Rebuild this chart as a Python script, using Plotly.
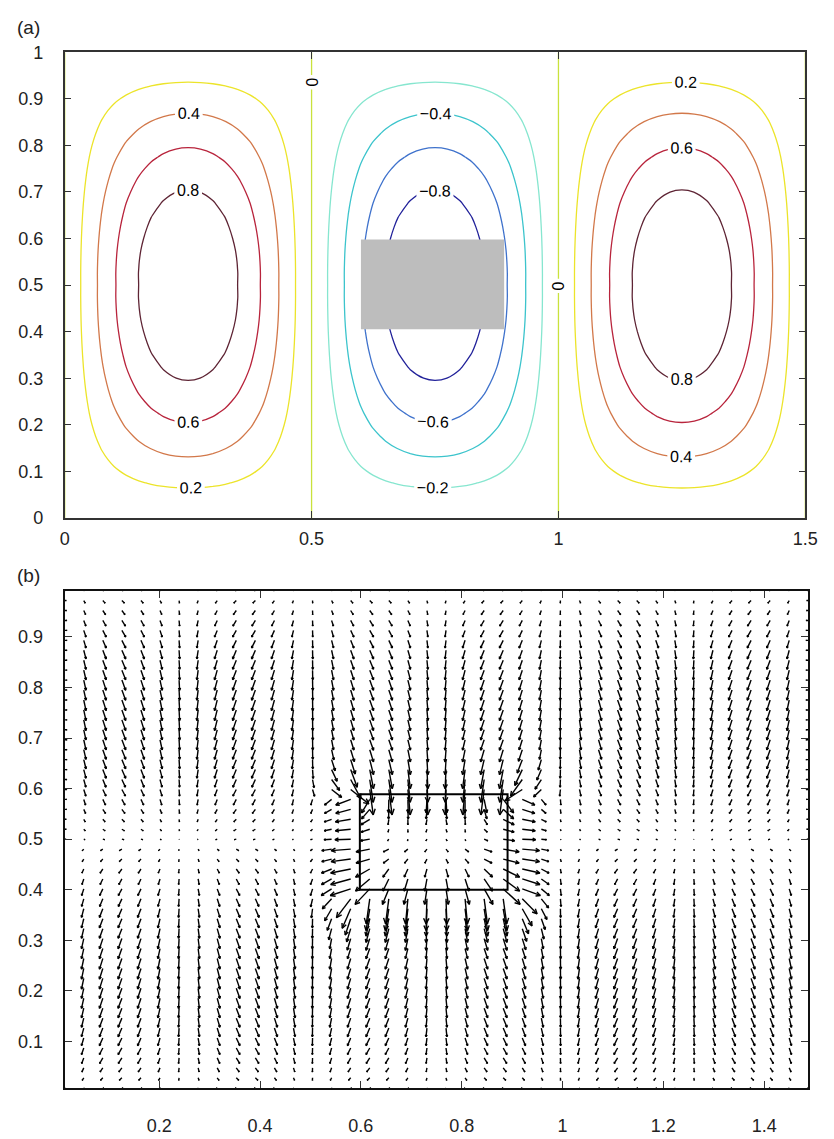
import numpy as np
import plotly.graph_objects as go
import plotly.figure_factory as ff

# ---------------- Panel (a): contour field (profiles) ----------------
x_a = np.linspace(0.0, 1.5, 61)
y_a = np.linspace(0.0, 1.0, 41)

psi_x_profile = [0.0, 0.156, 0.309, 0.454, 0.588, 0.707, 0.809, 0.891, 0.951, 0.988, 1.0,
                 0.988, 0.951, 0.891, 0.809, 0.707, 0.588, 0.454, 0.309, 0.156, 0.0,
                 -0.156, -0.309, -0.454, -0.588, -0.707, -0.809, -0.891, -0.951, -0.988, -1.0,
                 -0.988, -0.951, -0.891, -0.809, -0.707, -0.588, -0.454, -0.309, -0.156, 0.0,
                 0.156, 0.309, 0.454, 0.588, 0.707, 0.809, 0.891, 0.951, 0.988, 1.0,
                 0.988, 0.951, 0.891, 0.809, 0.707, 0.588, 0.454, 0.309, 0.156, 0.0]
psi_y_profile = [0.0, 0.078, 0.156, 0.233, 0.309, 0.383, 0.454, 0.522, 0.588, 0.649, 0.707,
                 0.760, 0.809, 0.853, 0.891, 0.924, 0.951, 0.972, 0.985, 0.992, 0.99,
                 0.992, 0.985, 0.972, 0.951, 0.924, 0.891, 0.853, 0.809, 0.760, 0.707,
                 0.649, 0.588, 0.522, 0.454, 0.383, 0.309, 0.233, 0.156, 0.078, 0.0]

neg_levels = [-0.8, -0.6, -0.4, -0.2]
neg_colors = ["#22229a", "#3f72cc", "#3cc4cc", "#86e6cf"]
zero_color = "#c9e23c"
pos_levels = [0.2, 0.4, 0.6, 0.8]
pos_colors = ["#ece42a", "#d2784a", "#b8243c", "#5e2434"]

obstacle = dict(x0=0.6, x1=0.89, y0=0.405, y1=0.598)

# ---------------- Panel (b): vector field (row/column profiles) ----------------
x_q = np.linspace(0.0125, 1.4875, 40)
y_q = np.linspace(0.0083, 0.9917, 51)

# vertical (downward) magnitude per row
v_row = [0.0, 0.005, 0.008, 0.011, 0.013, 0.015, 0.017, 0.018, 0.019, 0.020, 0.020, 0.021, 0.021,
         0.021, 0.020, 0.020, 0.019, 0.018, 0.017, 0.015, 0.013, 0.011, 0.008, 0.005, 0.003, 0.001,
         0.003, 0.005, 0.008, 0.011, 0.013, 0.015, 0.017, 0.018, 0.019, 0.020, 0.020, 0.021,
         0.021, 0.021, 0.020, 0.020, 0.019, 0.018, 0.017, 0.015, 0.013, 0.011, 0.008, 0.005, 0.0]
# horizontal tilt amplitude per row (signed)
u_row = [0.002, -0.005, -0.006, -0.007, -0.0075, -0.0075, -0.0075, -0.0075, -0.0075, -0.0075,
         -0.0075, -0.0075, -0.0075, -0.0075, -0.0075, -0.0075, -0.0075, -0.0075, -0.0075, -0.007,
         -0.007, -0.006, -0.006, -0.005, -0.005, 0.004,
         0.005, 0.005, 0.006, 0.006, 0.007, 0.007, 0.0075, 0.0075, 0.0075, 0.0075, 0.0075, 0.0075,
         0.0075, 0.0075, 0.0075, 0.0075, 0.0075, 0.0075, 0.0075, 0.0075, 0.0075, 0.007, 0.006,
         0.005, 0.002]
# tilt sign / strength per column
s_col = [0.6, 0.59, 0.89, 1.0, 0.88, 0.57, 0.14, -0.33, -0.71, -0.96, -0.98, -0.78, -0.42,
         0.05, 0.50, 0.84, 0.99, 0.93, 0.66, 0.24, -0.24, -0.66, -0.93, -0.99, -0.84, -0.50,
         -0.05, 0.41, 0.78, 0.98, 0.96, 0.72, 0.33, -0.13, -0.57, -0.88, -1.0, -0.89, -0.59, -0.6]
# vertical weight per column (border columns are flat)
w_col = [0.0] + [1.0] * 38 + [0.0]

# obstacle influence: magnitude vs distance from rectangle (outside / inside)
obs_dist = [0.0, 0.02, 0.04, 0.06, 0.08, 0.11]
obs_mag = [0.040, 0.034, 0.025, 0.015, 0.007, 0.0]
in_dist = [0.0, 0.03, 0.06, 0.10]
in_mag = [0.030, 0.018, 0.005, 0.003]
rect_b = dict(x0=0.598, x1=0.891, y0=0.40, y1=0.589)

XQ, YQ = np.meshgrid(x_q, y_q)
U = np.outer(u_row, s_col)
V = -np.outer(v_row, w_col)

cx = np.clip(XQ, rect_b["x0"], rect_b["x1"])
cy = np.clip(YQ, rect_b["y0"], rect_b["y1"])
dx, dy = XQ - cx, YQ - cy
d = np.hypot(dx, dy)
outside = d > 1e-9
dsafe = np.where(outside, d, 1.0)
nx, ny = dx / dsafe, dy / dsafe
sgn = np.where(ny > 1e-9, -1.0, 1.0)
m_out = np.interp(d, obs_dist, obs_mag)
U = U + np.where(outside, m_out * sgn * nx, 0.0)
V = V + np.where(outside, m_out * sgn * ny, 0.0)
xc = 0.5 * (rect_b["x0"] + rect_b["x1"])
dxe = np.minimum(XQ - rect_b["x0"], rect_b["x1"] - XQ)
dye = np.minimum(YQ - rect_b["y0"], rect_b["y1"] - YQ)
U = U + np.where(~outside, np.sign(XQ - xc) * np.interp(dxe, in_dist, in_mag), 0.0)
V = V + np.where(~outside, -0.6 * np.interp(dye, in_dist, in_mag), 0.0)

# ---------------- Figure ----------------
fig = go.Figure()
Z = np.outer(psi_y_profile, psi_x_profile)
lab_font = dict(size=16, color="black", family="Liberation Sans, Arial")

for levels, colors in [(neg_levels, neg_colors), (pos_levels, pos_colors)]:
    nlev = len(levels)
    cs = [[i / (nlev - 1), c] for i, c in enumerate(colors)]
    fig.add_trace(go.Contour(
        x=x_a, y=y_a, z=Z, zmin=levels[0], zmax=levels[-1],
        colorscale=cs, showscale=False,
        contours=dict(coloring="lines", start=levels[0], end=levels[-1], size=0.2,
                      showlabels=True, labelfont=lab_font, labelformat=".1~f"),
        line=dict(width=1.3, smoothing=1), hoverinfo="skip", xaxis="x", yaxis="y"))
# zero level: sign changes of the x-profile only (cell walls)
fig.add_trace(go.Contour(
    x=x_a, y=y_a, z=np.outer(np.ones(len(y_a)), psi_x_profile),
    colorscale=[[0, zero_color], [1, zero_color]], showscale=False,
    contours=dict(coloring="lines", start=0.0, end=0.0, size=1.0, showlabels=True,
                  labelfont=lab_font, labelformat=".1~f"),
    line=dict(width=1.3, smoothing=0), hoverinfo="skip", xaxis="x", yaxis="y"))

q = ff.create_quiver(XQ.flatten(), YQ.flatten(), U.flatten(), V.flatten(),
                     scale=1.0, arrow_scale=0.25, angle=np.pi / 7,
                     line=dict(color="black", width=1.4))
for tr in q.data:
    tr.update(xaxis="x2", yaxis="y2", showlegend=False, hoverinfo="skip")
    fig.add_trace(tr)

W, H = 834, 1139
tick_font = dict(size=18, color="#222", family="Liberation Sans, Arial")
axis_common = dict(showline=True, linecolor="#333", linewidth=1.5, mirror="ticks",
                   ticks="inside", ticklen=7, tickcolor="#333", tickwidth=1.2,
                   showgrid=False, zeroline=False, tickfont=tick_font)

fig.update_layout(
    width=W, height=H, margin=dict(l=0, r=0, t=0, b=0),
    paper_bgcolor="white", plot_bgcolor="white", showlegend=False,
    xaxis=dict(axis_common, domain=[61 / W, 818 / W], range=[0, 1.5],
               tickvals=[0, 0.5, 1, 1.5], ticktext=["0", "0.5", "1", "1.5"],
               anchor="y", ticklabelstandoff=4),
    yaxis=dict(axis_common, domain=[(H - 517) / H, (H - 43) / H], range=[0, 1],
               tickvals=[i / 10 for i in range(11)],
               ticktext=["0", "0.1", "0.2", "0.3", "0.4", "0.5", "0.6", "0.7", "0.8", "0.9", "1"],
               anchor="x", ticklabelstandoff=16),
    xaxis2=dict(axis_common, domain=[61 / W, 821 / W], range=[0.0125, 1.4875],
                tickvals=[0.2, 0.4, 0.6, 0.8, 1.0, 1.2, 1.4],
                ticktext=["0.2", "0.4", "0.6", "0.8", "1", "1.2", "1.4"],
                anchor="y2", linecolor="#111", linewidth=2, ticklabelstandoff=21),
    yaxis2=dict(axis_common, domain=[(H - 1097) / H, (H - 591) / H], range=[0.0083, 0.9917],
                tickvals=[0.1, 0.2, 0.3, 0.4, 0.5, 0.6, 0.7, 0.8, 0.9],
                ticktext=["0.1", "0.2", "0.3", "0.4", "0.5", "0.6", "0.7", "0.8", "0.9"],
                anchor="x2", linecolor="#111", linewidth=2, ticklabelstandoff=16),
    shapes=[
        dict(type="rect", xref="x", yref="y", layer="above", fillcolor="#bdbdbd",
             line=dict(width=0), **obstacle),
        dict(type="rect", xref="x2", yref="y2", layer="above", fillcolor="rgba(0,0,0,0)",
             line=dict(color="black", width=2), **rect_b),
    ],
    annotations=[
        dict(text="(a)", xref="paper", yref="paper", x=10 / W, y=(H - 18) / H,
             xanchor="left", yanchor="middle", showarrow=False,
             font=dict(size=19, color="#222", family="Liberation Sans, Arial")),
        dict(text="(b)", xref="paper", yref="paper", x=10 / W, y=(H - 576) / H,
             xanchor="left", yanchor="middle", showarrow=False,
             font=dict(size=19, color="#222", family="Liberation Sans, Arial")),
    ],
)

fig.write_html("out.html")
